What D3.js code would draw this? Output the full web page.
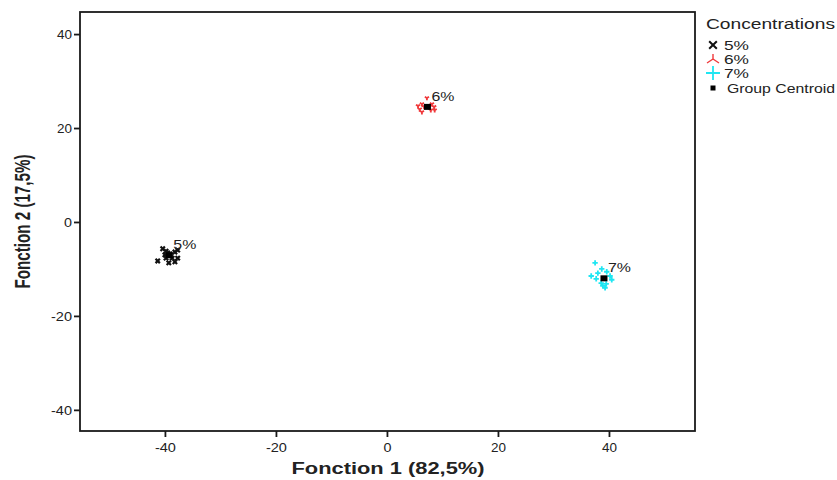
<!DOCTYPE html>
<html><head><meta charset="utf-8">
<script src="https://cdn.jsdelivr.net/npm/d3@7"></script>
<style>body{margin:0;background:#fff}svg{display:block;font-family:"Liberation Sans",Arial,sans-serif}</style>
</head><body><svg id="c" width="837" height="480"></svg>
<script>
const groups = ["5%", "6%", "7%"];
const colors = ["#111111", "#f03a3c", "#1ee6f2"];
const xTicks = [-40, -20, 0, 20, 40];
const yTicks = [40, 20, 0, -20, -40];
const pts5x = [-40.4, -39.8, -39.5, -39.1, -38.2, -37.7, -37.7, -38.7, -39.3, -38.2, -41.3, -40.0, -39.8];
const pts5y = [-5.7, -6.2, -6.6, -6.8, -6.4, -6.0, -7.7, -7.7, -8.7, -8.5, -8.3, -7.0, -7.7];
const pts6x = [6.3, 6.7, 5.9, 6.3, 8.1, 8.5, 7.9, 7.2, 8.6, 5.6, 7.0];
const pts6y = [25.1, 24.5, 24.0, 23.4, 25.1, 24.5, 23.8, 26.4, 23.8, 24.7, 24.7];
const pts7x = [37.5, 38.7, 38.0, 36.8, 39.6, 40.2, 40.5, 38.6, 38.9, 39.3, 37.7, 39.5];
const pts7y = [-8.7, -10.0, -10.9, -11.5, -10.6, -11.5, -12.3, -13.0, -13.6, -14.0, -12.1, -13.2];
const centroidX = [-39.2, 7.3, 39.1];
const centroidY = [-7.1, 24.5, -12.0];
const xTitle = "Fonction 1 (82,5%)";
const yTitle = "Fonction 2 (17,5%)";
const legendTitle = "Concentrations";
const centroidLabel = "Group Centroid";

const svg = d3.select("#c");
const L = 80, R = 695, T = 12, B = 431;
const x = d3.scaleLinear().domain([-55.3, 55.5]).range([L, R]);
const y = d3.scaleLinear().domain([-44.5, 44.7]).range([B, T]);

svg.append("rect").attr("x", L).attr("y", T).attr("width", R - L).attr("height", B - T)
  .attr("fill", "none").attr("stroke", "#1a1a1a").attr("stroke-width", 1.8);

const fmt = d => String(d);
const xa = svg.append("g").attr("transform", `translate(0,${B})`)
  .call(d3.axisBottom(x).tickValues(xTicks).tickSize(6).tickSizeOuter(0).tickFormat(fmt));
const ya = svg.append("g").attr("transform", `translate(${L},0)`)
  .call(d3.axisLeft(y).tickValues(yTicks).tickSize(6).tickSizeOuter(0).tickFormat(fmt));
[xa, ya].forEach(a => {
  a.select(".domain").remove();
  a.selectAll("line").attr("stroke", "#1a1a1a").attr("stroke-width", 1.8);
  a.selectAll("text").attr("fill", "#222").style("font-size", "13px").style("font-family", "Liberation Sans, Arial, sans-serif");
});
xa.selectAll(".tick text").attr("dy", "0.9em")
  .attr("textLength", d => d < 0 ? 21 : (d === 0 ? 8 : 15)).attr("lengthAdjust", "spacingAndGlyphs");
ya.selectAll(".tick text").attr("x", -8)
  .attr("textLength", d => d < 0 ? 21 : (d === 0 ? 8 : 15)).attr("lengthAdjust", "spacingAndGlyphs");

svg.append("text").attr("x", (L + R) / 2 + 0.5).attr("y", 474).attr("text-anchor", "middle")
  .style("font-weight", "bold").style("font-size", "16px").attr("fill", "#222")
  .attr("textLength", 193).attr("lengthAdjust", "spacingAndGlyphs").text(xTitle);
svg.append("text").attr("transform", `translate(30,${(T + B) / 2}) scale(1.42,1) rotate(-90)`).attr("text-anchor", "middle")
  .style("font-weight", "bold").style("font-size", "15px").attr("fill", "#222")
  .attr("textLength", 134).attr("lengthAdjust", "spacingAndGlyphs").text(yTitle);

const symX = d3.symbol().type(d3.symbolTimes).size(14);
const symY = d3.symbol().type(d3.symbolWye).size(12);
const symP = d3.symbol().type(d3.symbolCross).size(16);
const syms = [symX, symY, symP];
const data = [[pts5x, pts5y], [pts6x, pts6y], [pts7x, pts7y]];
data.forEach((d, gi) => {
  const g = svg.append("g");
  d[0].forEach((vx, i) => {
    const p = g.append("path").attr("d", syms[gi]())
      .attr("transform", `translate(${x(vx)},${y(d[1][i])})`);
    if (gi === 0) p.attr("fill", "none").attr("stroke", colors[0]).attr("stroke-width", 2.2);
    else if (gi === 1) p.attr("fill", colors[1]);
    else p.attr("fill", colors[2]);
  });
});
// centroids
centroidX.forEach((cx, i) => {
  svg.append("rect").attr("x", x(cx) - 3.5).attr("y", y(centroidY[i]) - 3).attr("width", 7).attr("height", 6).attr("fill", "#000");
  svg.append("text").attr("x", x(cx) + 4).attr("y", y(centroidY[i]) - 6)
    .style("font-size", "13px").attr("fill", "#222")
    .attr("textLength", 23).attr("lengthAdjust", "spacingAndGlyphs").text(groups[i]);
});

// legend
const lg = svg.append("g");
lg.append("text").attr("x", 706).attr("y", 29).style("font-size", "14px").attr("fill", "#222")
  .attr("textLength", 129).attr("lengthAdjust", "spacingAndGlyphs").text(legendTitle);
const ly = [45, 59, 73, 88];
groups.forEach((g, i) => {
  const sy = d3.symbol().type(d3.symbolTimes).size(40);
  const p = lg.append("path").attr("d", sy()).attr("transform", `translate(713,${ly[i]})`);
  if (i === 0) p.attr("fill", "none").attr("stroke", "#111").attr("stroke-width", 2);
  else if (i === 1) p.attr("fill", "none").attr("stroke", colors[1]).attr("stroke-width", 1.4).attr("d", "M0,0L-6,4M0,0L6,4M0,0L0,-5");
  else p.attr("fill", "none").attr("stroke", colors[2]).attr("stroke-width", 1.8).attr("d", "M-7,0H7M0,-7V7");
  lg.append("text").attr("x", 724).attr("y", ly[i] + 4.5).style("font-size", "13px").attr("fill", "#222")
    .attr("textLength", 25).attr("lengthAdjust", "spacingAndGlyphs").text(g);
});
lg.append("rect").attr("x", 710.5).attr("y", ly[3] - 2.5).attr("width", 5).attr("height", 5).attr("fill", "#000");
lg.append("text").attr("x", 727).attr("y", ly[3] + 4.5).style("font-size", "13px").attr("fill", "#222")
  .attr("textLength", 108).attr("lengthAdjust", "spacingAndGlyphs").text(centroidLabel);
</script></body></html>
